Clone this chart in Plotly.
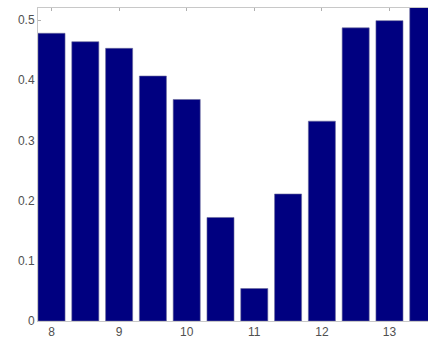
import plotly.graph_objects as go

# Bar positions (half-unit steps) and heights
positions = [8.0, 8.5, 9.0, 9.5, 10.0, 10.5, 11.0, 11.5, 12.0, 12.5, 13.0, 13.5]
heights = [0.478, 0.464, 0.453, 0.407, 0.368, 0.172, 0.054, 0.211, 0.332, 0.487, 0.499, 0.53]

x_ticks = [8, 9, 10, 11, 12, 13]
y_ticks = [0, 0.1, 0.2, 0.3, 0.4, 0.5]
y_tick_text = ["0", "0.1", "0.2", "0.3", "0.4", "0.5"]

fig = go.Figure(
    go.Bar(
        x=positions,
        y=heights,
        width=0.4,
        marker=dict(color="#000080", line=dict(width=0.6, color="#6a6a9a")),
    )
)

axis_common = dict(
    showgrid=False,
    zeroline=False,
    showline=True,
    linecolor="#c8c8c8",
    linewidth=1,
    ticks="inside",
    ticklen=3,
    tickcolor="#b0b0b0",
    tickfont=dict(family="Liberation Sans, Arial, sans-serif", size=12, color="#505050"),
    layer="below traces",
)

fig.update_layout(
    width=428,
    height=341,
    margin=dict(l=38, r=0, t=8, b=20),
    paper_bgcolor="white",
    plot_bgcolor="white",
    showlegend=False,
    xaxis=dict(range=[7.8, 13.57], tickvals=x_ticks, mirror="ticks", **axis_common),
    yaxis=dict(range=[0, 0.52], tickvals=y_ticks, ticktext=y_tick_text, mirror=False, **axis_common),
)

fig.write_html("out.html")
